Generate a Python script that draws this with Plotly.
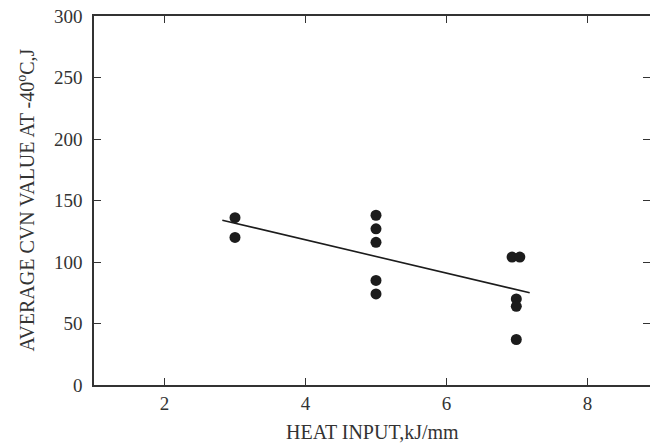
import plotly.graph_objects as go

# Data
heat_input = [3.0, 3.0, 5.0, 5.0, 5.0, 5.0, 5.0, 6.93, 7.04, 6.99, 6.99, 6.99]
cvn_value = [136, 120, 138, 127, 116, 85, 74, 104, 104, 70, 64, 37]
fit_x = [2.82, 7.18]
fit_y = [134, 75]
x_ticks = [2, 4, 6, 8]
y_ticks = [0, 50, 100, 150, 200, 250, 300]

FONT = "Liberation Serif, Times New Roman, serif"
INK = "#1c1c1c"
AX = "#333333"

fig = go.Figure()
fig.add_trace(go.Scatter(
    x=fit_x, y=fit_y, mode="lines",
    line=dict(color=INK, width=1.6), showlegend=False, hoverinfo="skip"))
fig.add_trace(go.Scatter(
    x=heat_input, y=cvn_value, mode="markers",
    marker=dict(color=INK, size=11), showlegend=False))
# empty trace hosting the right-hand tick marks
fig.add_trace(go.Scatter(x=[1], y=[None], yaxis="y2", showlegend=False,
                         mode="markers", hoverinfo="skip"))

W, H = 650, 444
L, R, T, B = 94, 0, 16, 59
PW, PH = W - L - R, H - T - B
X_PER_UNIT = 70.5

fig.update_layout(
    width=W, height=H,
    margin=dict(l=L, r=R, t=T, b=B),
    paper_bgcolor="white", plot_bgcolor="white",
    font=dict(family=FONT, color=AX, size=19),
    xaxis=dict(
        range=[1, 1 + PW / X_PER_UNIT],
        tickvals=x_ticks, ticks="inside", ticklen=7, tickwidth=1.3, tickcolor=AX,
        showline=True, linecolor=AX, linewidth=1.5, mirror="ticks",
        showgrid=False, zeroline=False, ticklabelstandoff=0,
        tickfont=dict(family=FONT, size=19, color=AX),
    ),
    yaxis=dict(
        range=[0, 300],
        tickvals=y_ticks, ticks="inside", ticklen=7, tickwidth=1.3, tickcolor=AX,
        showline=True, linecolor=AX, linewidth=1.5, mirror=False,
        showgrid=False, zeroline=False, ticklabelstandoff=6,
        tickfont=dict(family=FONT, size=19, color=AX),
    ),
    yaxis2=dict(
        range=[0, 300], overlaying="y", side="right",
        tickvals=y_ticks, ticks="inside", ticklen=7, tickwidth=1.3, tickcolor=AX,
        showticklabels=False, showline=False, showgrid=False, zeroline=False,
    ),
    annotations=[
        dict(text="AVERAGE CVN VALUE AT -40<sup>o</sup>C,J", textangle=-90,
             xref="paper", yref="paper", x=(25 - L) / PW, y=0.5,
             xanchor="center", yanchor="middle", showarrow=False,
             font=dict(family=FONT, size=20, color=AX)),
        dict(text="HEAT INPUT,kJ/mm",
             xref="paper", yref="paper", x=0.5, y=(H - B - 432) / PH,
             xanchor="center", yanchor="middle", showarrow=False,
             font=dict(family=FONT, size=20, color=AX)),
    ],
)

fig.write_html(
    "out.html",
    config={"displayModeBar": False},
    post_script="document.body.style.margin='0';"
                "document.documentElement.style.overflow='hidden';",
)
